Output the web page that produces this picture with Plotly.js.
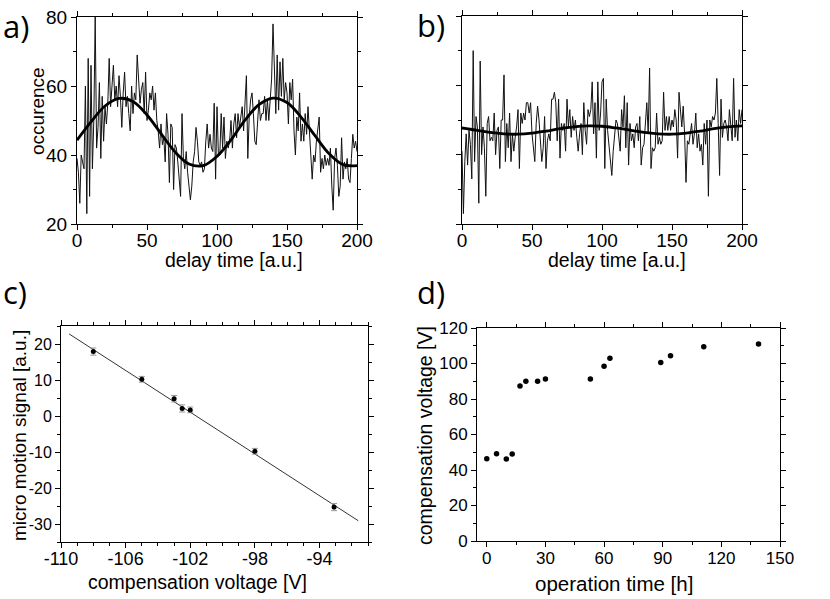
<!DOCTYPE html>
<html>
<head>
<meta charset="utf-8">
<script src="https://cdn.plot.ly/plotly-3.0.1.min.js"></script>
<style>
  html, body { margin: 0; padding: 0; background: #fff; }
  #chart { width: 830px; height: 599px; }
</style>
</head>
<body>
<div id="chart"></div>
<script>
// a) occurence vs delay time, one value per delay step (0..200)
var aCounts = [
  39,35,26,40,38,36,60,23,68,28,
  66,36,50,80,42,48,61,39,57,44,
  54,49,55,68,54,60,66,56,60,54,
  63,57,48,58,64,54,57,52,47,60,
  52,58,56,69,60,55,59,61,52,64,
  50,53,58,56,60,53,58,50,47,42,
  49,43,45,38,52,46,32,49,
  48,30,43,42,38,33,28,52,39,36,41,35,
  31,27,31,38,41,48,44,38,37,38,
  35,36,44,49,42,46,42,41,55,33,
  54,40,40,52,42,51,39,44,42,44,
  50,42,49,52,45,52,48,52,54,47,
  55,63,39,51,56,58,52,44,43,50,
  56,50,52,
  52,57,50,56,50,57,62,
  78,64,52,69,53,67,57,68,56,61,
  58,49,61,56,62,47,40,51,47,58,
  44,49,44,52,46,54,47,41,33,40,
  38,44,48,51,35,39,36,40,37,39,
  37,42,31,24,39,42,37,28,31,45,
  33,38,36,39,33,32,39,46,42,44,41
];

// b) same measurement, second setting
var bCounts = [
  41,23,38,46,37,47,43,33,70,38,
  51,48,26,67,40,48,42,28,49,51,
  44,45,44,52,40,47,48,36,50,50,
  63,38,49,42,52,38,46,41,45,48,
  53,36,52,49,52,50,55,55,52,55,
  46,41,38,49,54,50,43,38,42,51,
  36,44,46,44,56,56,58,55,
  44,56,39,49,47,49,41,56,48,53,45,51,
  47,50,45,41,46,49,40,55,47,43,
  53,51,53,61,46,55,39,61,47,52,
  61,62,36,56,47,43,38,34,41,47,
  50,49,44,41,53,48,57,42,55,37,
  49,44,46,42,48,49,44,51,37,42,
  43,48,55,
  46,65,36,42,41,42,52,
  43,45,43,44,58,47,51,47,51,47,
  50,48,53,50,39,58,52,48,54,46,
  32,44,43,46,49,43,46,52,42,46,
  41,43,37,49,43,50,28,50,48,51,
  50,52,62,49,34,56,45,49,50,48,
  44,53,49,44,62,45,50,44,53,49,53
];

// fitted curves, read every 10 steps
var fitTime = [0,10,20,30,40,50,60,70,80,90,100,110,120,130,140,150,160,170,180,190,200];
var aFit = [44.3,49.6,54.2,56.4,55.5,51.6,46.2,40.9,37.4,36.9,39.6,44.4,50.1,54.6,56.5,55.2,51.0,45.6,40.4,37.2,36.9];
var bFit = [47.7,47.1,46.4,46.0,45.9,46.2,46.8,47.5,48.0,48.3,48.2,47.7,47.1,46.4,46.0,45.9,46.2,46.8,47.5,48.0,48.3];

// c) micro motion signal vs compensation voltage
var cVoltage = [-108, -105, -103, -102.5, -102, -98, -93.1];
var cSignal = [17.9, 10.2, 4.8, 2.1, 1.7, -9.8, -25.3];
var cError = [1.0, 0.8, 0.9, 1.0, 0.8, 0.8, 1.0];
var cFitVoltage = [-109.5, -91.6];
var cFitSignal = [22.8, -29.1];
var cTickVals = [-110, -106, -102, -98, -94];
var cTickText = ['-110', '-106', '-102', '-98', '-94'];
var cYTickVals = [20, 10, 0, -10, -20, -30];
var cYTickText = ['20', '10', '0', '-10', '-20', '-30'];

// d) compensation voltage vs operation time
var dTime = [0, 5, 10, 13, 17, 20, 26, 30, 53, 60, 63, 89, 94, 111, 139];
var dVoltage = [46.4, 49.2, 46.2, 49.0, 87.3, 90.0, 90.0, 91.3, 91.3, 98.4, 102.9, 100.5, 104.4, 109.5, 111.0];

var font = '"Liberation Sans", Arial, sans-serif';
var W = 830, H = 599;

function px(x) { return x / W; }
function py(y) { return 1 - y / H; }

function axis(opts) {
  var a = {
    showline: true,
    linecolor: '#000',
    linewidth: 1,
    mirror: 'ticks',
    ticks: 'outside',
    ticklen: 5,
    tickwidth: 1,
    tickcolor: '#000',
    showgrid: false,
    zeroline: false,
    fixedrange: true,
    tickfont: { family: font, size: 19, color: '#000' },
    minor: { ticks: 'outside', ticklen: 3, tickcolor: '#000', tickwidth: 1 }
  };
  for (var k in opts) {
    if (k === 'minor') {
      for (var m in opts.minor) a.minor[m] = opts.minor[m];
    } else {
      a[k] = opts[k];
    }
  }
  return a;
}

var traces = [
  {
    y: aCounts, x0: 0, dx: 1, type: 'scatter', mode: 'lines',
    line: { color: '#111', width: 1 }, xaxis: 'x', yaxis: 'y'
  },
  {
    x: fitTime, y: aFit, type: 'scatter', mode: 'lines',
    line: { color: '#000', width: 2.8, shape: 'spline' }, xaxis: 'x', yaxis: 'y'
  },
  {
    y: bCounts, x0: 0, dx: 1, type: 'scatter', mode: 'lines',
    line: { color: '#111', width: 1 }, xaxis: 'x2', yaxis: 'y2'
  },
  {
    x: fitTime, y: bFit, type: 'scatter', mode: 'lines',
    line: { color: '#000', width: 2.8, shape: 'spline' }, xaxis: 'x2', yaxis: 'y2'
  },
  {
    x: cFitVoltage, y: cFitSignal, type: 'scatter', mode: 'lines',
    line: { color: '#333', width: 1 }, xaxis: 'x3', yaxis: 'y3'
  },
  {
    x: cVoltage, y: cSignal, type: 'scatter', mode: 'markers',
    marker: { color: '#000', size: 5 },
    error_y: { type: 'data', array: cError, visible: true, color: '#999', thickness: 1, width: 3 },
    xaxis: 'x3', yaxis: 'y3'
  },
  {
    x: dTime, y: dVoltage, type: 'scatter', mode: 'markers',
    marker: { color: '#000', size: 5.5 }, xaxis: 'x4', yaxis: 'y4'
  }
];

var layout = {
  width: W,
  height: H,
  showlegend: false,
  paper_bgcolor: '#fff',
  plot_bgcolor: '#fff',
  margin: { l: 0, r: 0, t: 0, b: 0 },
  font: { family: font, color: '#000' },

  xaxis: axis({
    domain: [px(77), px(357)], anchor: 'y', range: [0, 200],
    tick0: 0, dtick: 50, minor: { dtick: 25 }, ticklabelstandoff: -6
  }),
  yaxis: axis({
    domain: [py(224), py(17)], anchor: 'x', range: [20, 80],
    tick0: 20, dtick: 20, minor: { dtick: 10 }
  }),
  xaxis2: axis({
    domain: [px(462), px(742)], anchor: 'y2', range: [0, 200],
    tick0: 0, dtick: 50, minor: { dtick: 25 }, ticklabelstandoff: -6
  }),
  yaxis2: axis({
    domain: [py(224), py(16)], anchor: 'x2', range: [20, 80],
    tick0: 20, dtick: 20, minor: { dtick: 10 }, showticklabels: false
  }),
  xaxis3: axis({
    domain: [px(61), px(368)], anchor: 'y3', range: [-110, -91],
    tickmode: 'array', tickvals: cTickVals, ticktext: cTickText,
    minor: { tick0: -110, dtick: 1 }, ticklabelstandoff: -5,
    tickfont: { family: font, size: 18, color: '#000' }
  }),
  yaxis3: axis({
    domain: [py(542), py(326)], anchor: 'x3', range: [-35, 25],
    tickmode: 'array', tickvals: cYTickVals, ticktext: cYTickText,
    minor: { tick0: 0, dtick: 5 }, tickfont: { family: font, size: 16, color: '#000' }
  }),
  xaxis4: axis({
    domain: [px(477), px(780)], anchor: 'y4', range: [-5, 150],
    tick0: 0, dtick: 30, minor: { tick0: 0, dtick: 15 }, ticklabelstandoff: -3,
    tickfont: { family: font, size: 17, color: '#000' }
  }),
  yaxis4: axis({
    domain: [py(541), py(328)], anchor: 'x4', range: [0, 120],
    tick0: 0, dtick: 20, minor: { dtick: 10 },
    tickfont: { family: font, size: 17, color: '#000' }
  }),

  annotations: []
};

function label(text, x, y, size, angle, fam) {
  layout.annotations.push({
    text: text, xref: 'paper', yref: 'paper', x: px(x), y: py(y),
    xanchor: 'center', yanchor: 'middle', showarrow: false,
    textangle: angle || 0,
    font: { family: fam || font, size: size, color: '#000' }
  });
}

// panel letters
var letterFont = '"Open Sans", "DejaVu Sans", sans-serif';
label('a)', 16, 26, 31, 0, letterFont);
label('b)', 431, 25, 31, 0, letterFont);
label('c)', 15, 292, 31, 0, letterFont);
label('d)', 431, 292, 31, 0, letterFont);

// axis titles
label('delay time [a.u.]', 234, 260, 19.5);
label('occurence', 37, 111, 19, -90);
label('delay time [a.u.]', 617, 260, 19.5);
label('compensation voltage [V]', 197, 582, 19.5);
label('micro motion signal [a.u.]', 19, 436, 19, -90);
label('operation time [h]', 614, 583, 20.5);
label('compensation voltage [V]', 425, 436, 19.5, -90);

Plotly.newPlot('chart', traces, layout, { displayModeBar: false, staticPlot: true });
</script>
</body>
</html>
